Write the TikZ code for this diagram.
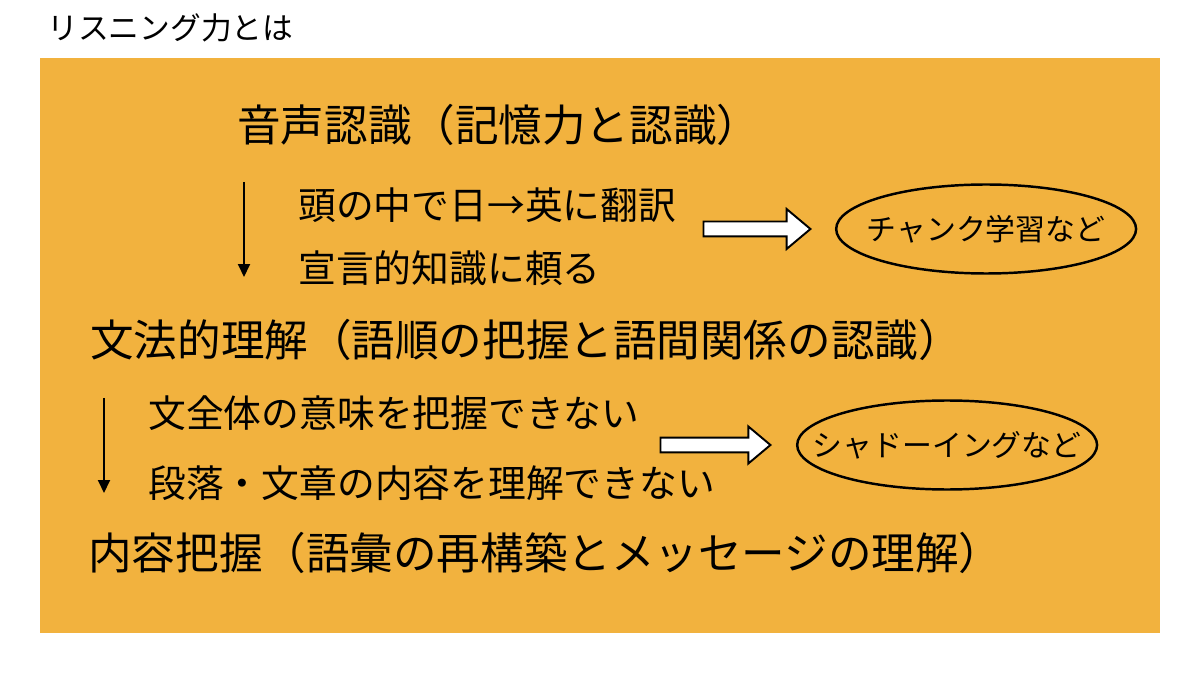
\documentclass[tikz,border=0pt]{standalone}
\usepackage{fontspec}
\setmainfont{Noto Sans CJK JP}
\usetikzlibrary{arrows.meta,positioning,shapes.geometric,shapes.arrows}
\definecolor{listenOrange}{RGB}{242, 178, 62}

\begin{document}
\begin{tikzpicture}[
  x=0.02cm, y=-0.02cm,
  stage/.style={
    anchor=west,
    inner sep=0pt,
    font=\fontsize{24.8}{28}\selectfont
  },
  symptom/.style={
    anchor=west,
    inner sep=0pt,
    font=\fontsize{21.5}{25}\selectfont
  },
  remedy/.style={
    draw,
    ellipse,
    line width=1.4pt,
    minimum width=6cm,
    minimum height=1.78cm,
    inner sep=0pt,
    font=\fontsize{17}{20}\selectfont
  },
  fatarrow/.style={
    draw,
    fill=white,
    line width=1.1pt,
    single arrow,
    single arrow head extend=0.25cm,
    single arrow tip angle=80,
    single arrow head indent=0pt,
    text height=0.13cm,
    text depth=0.13cm,
    inner sep=0pt
  },
  arrow/.style={-{Triangle[length=0.26cm,width=0.24cm]},line width=1.1pt}
]
  \useasboundingbox (0,0) rectangle (1200,675);
  \node[anchor=west,inner sep=0pt,font=\fontsize{17.5}{20}\selectfont] (title) at (47,28) {リスニング力とは};
  \fill[listenOrange] (40,58) rectangle (1160,633);

  % stages
  \node[stage] (sound) at (237,125) {音声認識（記憶力と認識）};
  \node[stage] (grammar) at (90,340) {文法的理解（語順の把握と語間関係の認識）};
  \node[stage] (content) at (88,553) {内容把握（語彙の再構築とメッセージの理解）};

  % problems between the stages
  \node[symptom] (translate) at (298,205) {頭の中で日→英に翻訳};
  \node[symptom] (knowledge) at (298,268) {宣言的知識に頼る};
  \node[symptom] (sentence) at (148,413) {文全体の意味を把握できない};
  \node[symptom] (paragraph) at (148,483) {段落・文章の内容を理解できない};

  \coordinate (soundtop) at (244,182);
  \coordinate (soundbot) at (244,277);
  \coordinate (grammartop) at (104,398);
  \coordinate (grammarbot) at (104,493);
  \draw[arrow] (soundtop) -- (soundbot);
  \draw[arrow] (grammartop) -- (grammarbot);

  % remedies
  \node[fatarrow,minimum height=2.14cm] (chunkarrow) at (752.5,229) {};
  \node[remedy,right=0.46cm of chunkarrow] (chunk) {\makebox[0pt]{チャンク学習など}};
  \node[fatarrow,minimum height=2.2cm,single arrow head extend=0.22cm] (shadowarrow) at (711,445) {};
  \node[remedy,right=0.48cm of shadowarrow] (shadow) {\makebox[0pt]{シャドーイングなど}};
\end{tikzpicture}
\end{document}
